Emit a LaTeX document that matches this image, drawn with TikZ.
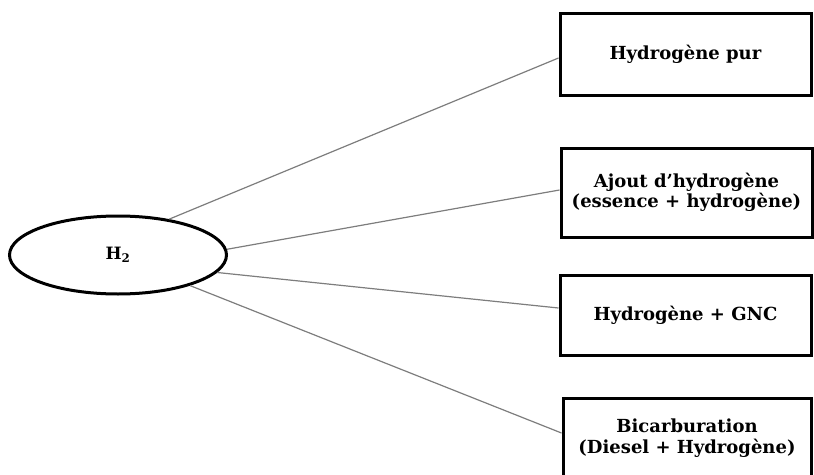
\documentclass[tikz,border=0pt]{standalone}
\usepackage{fontspec}
\setmainfont{DejaVu Serif}
\usetikzlibrary{shapes.geometric}
\definecolor{gris}{RGB}{125,125,125}

\begin{document}
\begin{tikzpicture}[x=1pt,y=-1pt,
		boite/.style={draw,line width=3pt,minimum width=251pt,align=center,inner sep=0pt,
			font=\bfseries\fontsize{18}{20.5}\selectfont},
		liaison/.style={gris,line width=1.2pt}]
	\useasboundingbox (0,0) rectangle (814,474);
	% centre
	\node[ellipse,draw,line width=3pt,minimum width=217pt,minimum height=78pt,
		font=\bfseries\fontsize{17}{18}\selectfont] (h2) at (118,255) {H\textsubscript{2}};
	% applications
	\node[boite,minimum height=82pt] (pur) at (685.5,54) {Hydrogène pur};
	\node[boite,minimum height=89pt] (ajout) at (686.5,192.5) {Ajout d'hydrogène\\(essence + hydrogène)};
	\node[boite,minimum height=80pt] (gnc) at (685.5,315) {Hydrogène + GNC};
	\node[boite,minimum height=80pt,minimum width=248pt] (bicarb) at (687,438) {Bicarburation\\(Diesel + Hydrogène)};
	% liaisons
	\draw[liaison] (h2.35) -- ([yshift=-4pt]pur.west);
	\draw[liaison] (h2.3) -- ([yshift=2.5pt]ajout.west);
	\draw[liaison] (h2.-10) -- ([yshift=7pt]gnc.west);
	\draw[liaison] (h2.-23) -- ([yshift=5pt]bicarb.west);
\end{tikzpicture}
\end{document}
